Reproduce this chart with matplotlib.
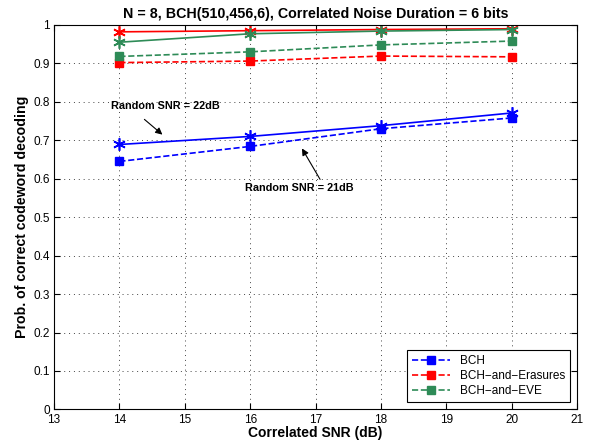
import matplotlib
matplotlib.use('Agg')
import matplotlib.pyplot as plt

plt.rcParams['font.family'] = ['Liberation Sans', 'DejaVu Sans']

snr = [14, 16, 18, 20]

# dashed = random SNR 21dB, solid = random SNR 22dB
bch_21 = [0.645, 0.684, 0.730, 0.758]
bch_22 = [0.689, 0.710, 0.738, 0.771]
era_21 = [0.902, 0.906, 0.919, 0.917]
era_22 = [0.982, 0.985, 0.988, 0.990]
eve_21 = [0.918, 0.930, 0.948, 0.958]
eve_22 = [0.955, 0.977, 0.984, 0.988]

blue = '#0000ff'
red = '#ff0000'
green = '#2e8b57'
star = (6, 2, 0)

fig = plt.figure(figsize=(6, 4.45), dpi=100)
ax = fig.add_axes([0.09, 0.08, 0.872, 0.864])

ax.plot(snr, bch_21, '--', marker='s', color=blue, lw=1.2, ms=5.5, label='BCH')
ax.plot(snr, era_21, '--', marker='s', color=red, lw=1.2, ms=5.5, label='BCH\u2212and\u2212Erasures')
ax.plot(snr, eve_21, '--', marker='s', color=green, lw=1.2, ms=5.5, label='BCH\u2212and\u2212EVE')
ax.plot(snr, bch_22, '-', marker=star, color=blue, lw=1.2, ms=9, mew=1.2)
ax.plot(snr, era_22, '-', marker=star, color=red, lw=1.2, ms=9, mew=1.2)
ax.plot(snr, eve_22, '-', marker=star, color=green, lw=1.2, ms=9, mew=1.2)

ax.set_xlim(13, 21)
ax.set_ylim(0, 1)
ax.set_xticks(range(13, 22))
ax.set_yticks([i / 10 for i in range(11)])
ax.set_yticklabels(['0', '0.1', '0.2', '0.3', '0.4', '0.5', '0.6', '0.7', '0.8', '0.9', '1'])
ax.tick_params(direction='in', labelsize=8.5, length=4, top=True, right=True, pad=3)
ax.grid(True, linestyle=(0, (1, 4)), color='#444444', lw=0.7)

ax.set_title('N = 8, BCH(510,456,6), Correlated Noise Duration = 6 bits',
             fontsize=10.3, fontweight='bold', pad=5)
ax.set_xlabel('Correlated SNR (dB)', fontsize=10, fontweight='bold', labelpad=0)
ax.set_ylabel('Prob. of correct codeword decoding', fontsize=10.2, fontweight='bold', labelpad=3)

arrow = dict(arrowstyle='-|>', color='black', lw=0.8, mutation_scale=10)
ax.annotate('', xy=(14.69, 0.710), xytext=(14.35, 0.759), arrowprops=arrow)
ax.text(14.71, 0.790, 'Random SNR = 22dB', ha='center', va='center', fontsize=7.8, fontweight='bold')
ax.annotate('', xy=(16.77, 0.685), xytext=(17.09, 0.592), arrowprops=arrow)
ax.text(16.75, 0.575, 'Random SNR = 21dB', ha='center', va='center', fontsize=7.8, fontweight='bold')

leg = ax.legend(loc='lower right', fontsize=8.5, fancybox=False, framealpha=1,
                edgecolor='black', borderaxespad=0.6, handlelength=3.2,
                handletextpad=0.8, labelspacing=0.25, borderpad=0.45)
leg.get_frame().set_linewidth(0.8)

fig.savefig('out.png', dpi=100)
